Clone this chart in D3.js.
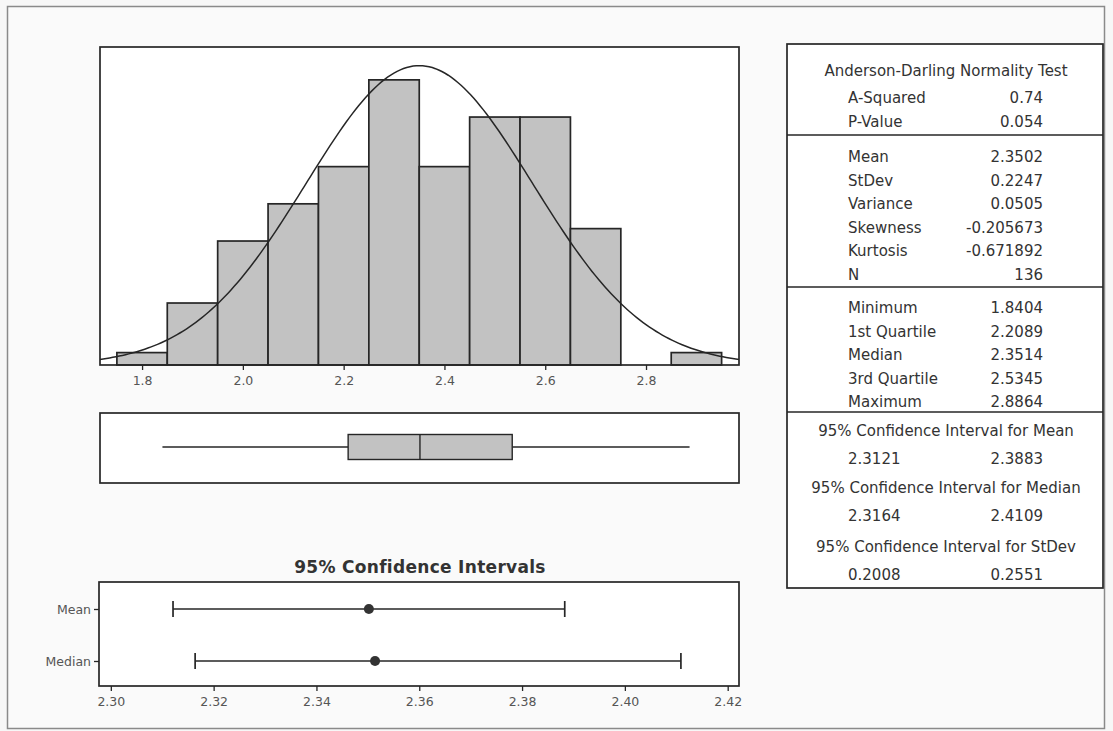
<!DOCTYPE html>
<html lang="en">
<head>
<meta charset="UTF-8" />
<title>Summary Report</title>
<script src="https://d3js.org/d3.v7.min.js"></script>
<style>
  html, body { margin: 0; padding: 0; background: #f7f7f7; }
  svg { display: block; font-family: "DejaVu Sans", Verdana, sans-serif; }
</style>
</head>
<body>
<svg id="chart" width="1113" height="731"></svg>
<script>
// histogram bins (centers) and counts
const binCenters = [1.8, 1.9, 2.0, 2.1, 2.2, 2.3, 2.4, 2.5, 2.6, 2.7, 2.8, 2.9];
const binCounts  = [1, 5, 10, 13, 16, 23, 16, 20, 20, 11, 0, 1];
const binWidth = 0.1;
const histTicks = [1.8, 2.0, 2.2, 2.4, 2.6, 2.8];

// summary stats
const mean = 2.3502, stdev = 0.2247, n = 136;
const boxStats = { min: 1.8404, q1: 2.2089, median: 2.3514, q3: 2.5345, max: 2.8864 };

// confidence intervals
const ciNames  = ["Mean", "Median"];
const ciCenter = [2.3502, 2.3514];
const ciLow    = [2.3121, 2.3164];
const ciHigh   = [2.3883, 2.4109];
const ciTicks  = [2.30, 2.32, 2.34, 2.36, 2.38, 2.40, 2.42];

// table text
const adLabels = ["A-Squared", "P-Value"];
const adValues = ["0.74", "0.054"];
const momentLabels = ["Mean", "StDev", "Variance", "Skewness", "Kurtosis", "N"];
const momentValues = ["2.3502", "0.2247", "0.0505", "-0.205673", "-0.671892", "136"];
const quantLabels = ["Minimum", "1st Quartile", "Median", "3rd Quartile", "Maximum"];
const quantValues = ["1.8404", "2.2089", "2.3514", "2.5345", "2.8864"];
const ciTitles = ["95% Confidence Interval for Mean", "95% Confidence Interval for Median", "95% Confidence Interval for StDev"];
const ciTableLow  = ["2.3121", "2.3164", "0.2008"];
const ciTableHigh = ["2.3883", "2.4109", "0.2551"];

const svg = d3.select("#chart");
const ink = "#262626";
const barFill = "#c2c2c2";

// outer frame
svg.append("rect")
  .attr("x", 7.5).attr("y", 6.5).attr("width", 1097).attr("height", 722)
  .attr("fill", "#fafafa").attr("stroke", "#8a8a8a").attr("stroke-width", 1.5);

// ---------- histogram ----------
const hist = { left: 100, right: 739, top: 47, bottom: 365 };
const hx = d3.scaleLinear().domain([1.7165, 2.9845]).range([hist.left, hist.right]);
const hy = d3.scaleLinear().domain([0, 25.65]).range([hist.bottom, hist.top]);

svg.append("rect")
  .attr("x", hist.left).attr("y", hist.top)
  .attr("width", hist.right - hist.left).attr("height", hist.bottom - hist.top)
  .attr("fill", "#fff");

svg.append("g").selectAll("rect")
  .data(binCenters.map((c, i) => ({ c, count: binCounts[i] })).filter(d => d.count > 0))
  .enter().append("rect")
    .attr("x", d => hx(d.c - binWidth / 2))
    .attr("y", d => hy(d.count))
    .attr("width", d => hx(d.c + binWidth / 2) - hx(d.c - binWidth / 2))
    .attr("height", d => hy(0) - hy(d.count))
    .attr("fill", barFill)
    .attr("stroke", ink)
    .attr("stroke-width", 1.7);

// fitted normal curve
const pdf = x => n * binWidth * Math.exp(-0.5 * ((x - mean) / stdev) ** 2) / (stdev * Math.sqrt(2 * Math.PI));
const curvePts = d3.range(0, 201).map(i => {
  const x = hx.domain()[0] + i * (hx.domain()[1] - hx.domain()[0]) / 200;
  return [x, pdf(x)];
});
svg.append("path")
  .datum(curvePts)
  .attr("fill", "none")
  .attr("stroke", ink)
  .attr("stroke-width", 1.5)
  .attr("d", d3.line().x(d => hx(d[0])).y(d => hy(d[1])));

svg.append("rect")
  .attr("x", hist.left).attr("y", hist.top)
  .attr("width", hist.right - hist.left).attr("height", hist.bottom - hist.top)
  .attr("fill", "none").attr("stroke", ink).attr("stroke-width", 1.7);

const hAxis = svg.append("g")
  .attr("transform", `translate(0,${hist.bottom})`)
  .call(d3.axisBottom(hx).tickValues(histTicks).tickFormat(d3.format(".1f")).tickSize(5).tickPadding(6));
hAxis.select(".domain").remove();
hAxis.selectAll("line").attr("stroke", ink).attr("stroke-width", 1.3);
hAxis.selectAll("text").attr("fill", "#555").attr("font-size", "12.5px").attr("font-family", "DejaVu Sans");

// ---------- boxplot ----------
const bp = { left: 100, right: 739, top: 413, bottom: 483 };
const bx = d3.scaleLinear().domain(hx.domain()).range([bp.left, bp.right]);
const bMid = 447, bHalf = 12.5;

svg.append("rect")
  .attr("x", bp.left).attr("y", bp.top)
  .attr("width", bp.right - bp.left).attr("height", bp.bottom - bp.top)
  .attr("fill", "#fff").attr("stroke", ink).attr("stroke-width", 1.7);

svg.append("line")
  .attr("x1", bx(boxStats.min)).attr("x2", bx(boxStats.q1))
  .attr("y1", bMid).attr("y2", bMid).attr("stroke", ink).attr("stroke-width", 1.7);
svg.append("line")
  .attr("x1", bx(boxStats.q3)).attr("x2", bx(boxStats.max))
  .attr("y1", bMid).attr("y2", bMid).attr("stroke", ink).attr("stroke-width", 1.7);
svg.append("rect")
  .attr("x", bx(boxStats.q1)).attr("y", bMid - bHalf)
  .attr("width", bx(boxStats.q3) - bx(boxStats.q1)).attr("height", bHalf * 2)
  .attr("fill", barFill).attr("stroke", ink).attr("stroke-width", 1.4);
svg.append("line")
  .attr("x1", bx(boxStats.median)).attr("x2", bx(boxStats.median))
  .attr("y1", bMid - bHalf).attr("y2", bMid + bHalf).attr("stroke", ink).attr("stroke-width", 1.4);

// ---------- confidence intervals ----------
const ci = { left: 99, right: 739, top: 582, bottom: 686 };
const cx = d3.scaleLinear().domain([2.2977, 2.4222]).range([ci.left, ci.right]);
const cy = d3.scalePoint().domain(ciNames).range([609, 661]);

svg.append("text")
  .attr("x", 420).attr("y", 567)
  .attr("text-anchor", "middle").attr("dominant-baseline", "central")
  .attr("font-size", "17px").attr("font-weight", "bold").attr("fill", "#333")
  .attr("letter-spacing", "0.3px")
  .text("95% Confidence Intervals");

svg.append("rect")
  .attr("x", ci.left).attr("y", ci.top)
  .attr("width", ci.right - ci.left).attr("height", ci.bottom - ci.top)
  .attr("fill", "#fff").attr("stroke", ink).attr("stroke-width", 1.7);

ciNames.forEach((name, i) => {
  const y = cy(name);
  svg.append("line")
    .attr("x1", cx(ciLow[i])).attr("x2", cx(ciHigh[i]))
    .attr("y1", y).attr("y2", y).attr("stroke", ink).attr("stroke-width", 1.4);
  [ciLow[i], ciHigh[i]].forEach(v => {
    svg.append("line")
      .attr("x1", cx(v)).attr("x2", cx(v))
      .attr("y1", y - 8).attr("y2", y + 8).attr("stroke", ink).attr("stroke-width", 1.7);
  });
  svg.append("circle")
    .attr("cx", cx(ciCenter[i])).attr("cy", y).attr("r", 5)
    .attr("fill", "#333");
});

const cAxisX = svg.append("g")
  .attr("transform", `translate(0,${ci.bottom})`)
  .call(d3.axisBottom(cx).tickValues(ciTicks).tickFormat(d3.format(".2f")).tickSize(5).tickPadding(6));
cAxisX.select(".domain").remove();
cAxisX.selectAll("line").attr("stroke", ink).attr("stroke-width", 1.3);
cAxisX.selectAll("text").attr("fill", "#555").attr("font-size", "12.5px").attr("font-family", "DejaVu Sans");

const cAxisY = svg.append("g")
  .attr("transform", `translate(${ci.left},0)`)
  .call(d3.axisLeft(cy).tickSize(5).tickPadding(3));
cAxisY.select(".domain").remove();
cAxisY.selectAll("line").attr("stroke", ink).attr("stroke-width", 1.3);
cAxisY.selectAll("text").attr("fill", "#555").attr("font-size", "12.5px").attr("font-family", "DejaVu Sans");

// ---------- stats table ----------
const tb = { left: 787, right: 1103, top: 44, bottom: 588 };
const labelX = 848, valueX = 1043, midX = 946;
const tColor = "#333";

svg.append("rect")
  .attr("x", tb.left).attr("y", tb.top)
  .attr("width", tb.right - tb.left).attr("height", tb.bottom - tb.top)
  .attr("fill", "#fff").attr("stroke", ink).attr("stroke-width", 1.7);

[135, 287, 412].forEach(y => {
  svg.append("line")
    .attr("x1", tb.left).attr("x2", tb.right)
    .attr("y1", y).attr("y2", y)
    .attr("stroke", ink).attr("stroke-width", 1.7);
});

function tText(x, y, str, anchor) {
  svg.append("text")
    .attr("x", x).attr("y", y)
    .attr("text-anchor", anchor)
    .attr("dominant-baseline", "central")
    .attr("font-size", "15px")
    .attr("fill", tColor)
    .text(str);
}

function rows(labels, values, y0, step) {
  labels.forEach((l, i) => {
    tText(labelX, y0 + i * step, l, "start");
    tText(valueX, y0 + i * step, values[i], "end");
  });
}

tText(midX, 71, "Anderson-Darling Normality Test", "middle");
rows(adLabels, adValues, 98, 24);
rows(momentLabels, momentValues, 157, 23.6);
rows(quantLabels, quantValues, 308, 23.5);

[431, 488, 547].forEach((y, i) => {
  tText(midX, y, ciTitles[i], "middle");
  tText(labelX, y + 28, ciTableLow[i], "start");
  tText(valueX, y + 28, ciTableHigh[i], "end");
});
</script>
</body>
</html>
